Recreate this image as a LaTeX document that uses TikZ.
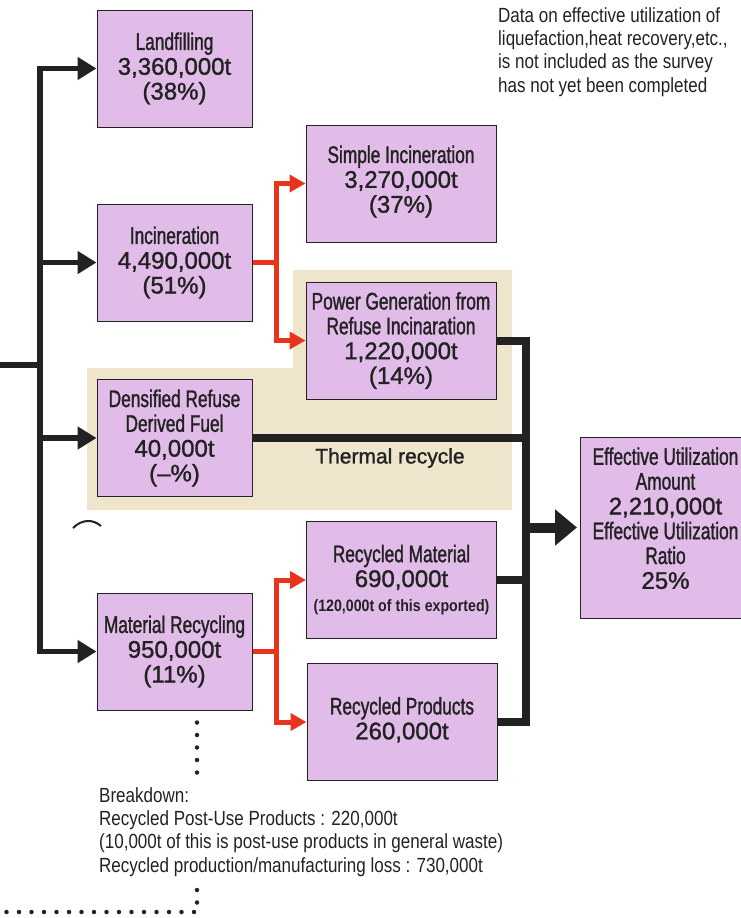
\documentclass[tikz,border=0pt]{standalone}
\usepackage{fontspec}
\setmainfont{Liberation Sans}
\newfontfamily\boxfont{Liberation Sans}[FakeBold=1.3,Ligatures=TeX]
\newfontfamily\condfont{Liberation Sans}[FakeStretch=0.72,FakeBold=1.3]
\newfontfamily\notefont{Liberation Sans}[FakeStretch=0.83]
\newfontfamily\tinycond{Liberation Sans}[FakeStretch=0.86]
\usetikzlibrary{arrows.meta}
\definecolor{boxpink}{RGB}{226,188,233}
\definecolor{thermbg}{RGB}{238,229,204}
\definecolor{flowred}{RGB}{232,52,28}
\definecolor{ink}{RGB}{34,34,34}

\begin{document}
\begin{tikzpicture}[x=1pt,y=-1pt,
	box/.style={draw=ink,line width=1pt,fill=boxpink,inner sep=0pt,align=center,text=ink,
		font=\boxfont\fontsize{24}{24.8}\selectfont},
	lbox/.style={box,minimum width=155pt,minimum height=117pt},
	rbox/.style={box,minimum width=190pt,minimum height=117pt},
	mainline/.style={draw=ink,line width=5.5pt},
	mainarr/.style={mainline,-{Triangle[length=19pt,width=22pt]}},
	redarr/.style={draw=flowred,line width=5pt,-{Triangle[length=16pt,width=17pt]}},
	fatline/.style={draw=ink,line width=8pt},
	fatarr/.style={draw=ink,line width=10pt,shorten >=3pt,-{Triangle[length=22pt,width=35pt]}},
	dots/.style={draw=ink,line width=4.5pt,line cap=round,dash pattern=on 0pt off 12.5pt},
	plain/.style={inner sep=0pt,align=left,text=ink,font=\notefont\fontsize{20.5}{23.4}\selectfont}]
	\useasboundingbox (0,0) rectangle (741,918);
	\fill[thermbg] (293,270) -- (512,270) -- (512,510) -- (87,510) -- (87,368) -- (293,368) -- cycle;
	% first split
	\node[lbox] (land) at (174.5,68.5) {{\condfont Landfilling}\\3,360,000t\\(38\%)};
	\node[lbox] (incin) at (174.5,262.5) {{\condfont Incineration}\\4,490,000t\\(51\%)};
	\node[lbox] (rdf) at (174.5,438) {{\condfont Densified Refuse}\\{\condfont Derived Fuel}\\40,000t\\(–\%)};
	\node[lbox] (matrec) at (174.5,651.5) {{\condfont Material Recycling}\\950,000t\\(11\%)};
	% second split
	\node[rbox] (simple) at (401,183.5) {{\condfont Simple Incineration}\\3,270,000t\\(37\%)\\[-16pt]{}};
	\node[rbox] (power) at (401,340.5) {{\condfont Power Generation from}\\{\condfont Refuse Incinaration}\\1,220,000t\\(14\%)};
	\node[rbox] (recmat) at (401.5,580) {{\condfont Recycled Material}\\690,000t\\{\tinycond\bfseries\fontsize{16.5}{24.8}\selectfont(120,000t of this exported)}};
	\node[rbox] (recprod) at (402,722) {{}\\[-12pt]{\condfont Recycled Products}\\260,000t};
	\node[box,minimum width=170pt,minimum height=181pt,anchor=west] (effect) at (580,527.5)
		{{\condfont Effective Utilization}\\{\condfont Amount}\\2,210,000t\\{\condfont Effective Utilization}\\{\condfont Ratio}\\25\%\\[-6pt]{}};
	\node[text=ink,font=\boxfont\fontsize{21}{21}\selectfont] (thermal) at (390,458) {Thermal recycle};
	\node[plain,anchor=north west] (note) at (498,7) {Data on effective utilization of\\liquefaction,heat recovery,etc.,\\is not included as the survey\\has not yet been completed};
	\node[plain,anchor=north west] (bdown) at (99,787) {Breakdown:\\Recycled Post-Use Products : 220,000t\\(10,000t of this is post-use products in general waste)\\Recycled production/manufacturing loss : 730,000t};
	% left feed
	\coordinate (feed) at (0,365);
	\coordinate (lbus) at (40,365);
	\draw[mainline] (feed) -- (lbus);
	\draw[mainarr] (lbus) |- (land.west);
	\draw[mainarr] (lbus) |- (matrec.west);
	\foreach \n in {incin,rdf}
		\draw[mainarr] (lbus |- \n.west) -- (\n.west);
	% red splits
	\coordinate (isplit) at (276,262.5);
	\coordinate (msplit) at (276,651.5);
	\draw[redarr] (incin.east) -- (isplit) |- (simple.west);
	\draw[redarr] (isplit) |- (power.west);
	\draw[redarr] (matrec.east) -- (msplit) |- (recmat.west);
	\draw[redarr] (msplit) |- (recprod.west);
	% effective utilization
	\coordinate (rbus) at (526,0);
	\draw[fatline] (power.east) -| (rbus |- recprod.east) -- (recprod.east);
	\draw[fatline] (rdf.east) -- (rbus |- rdf.east);
	\draw[fatline] (recmat.east) -- (rbus |- recmat.east);
	\draw[fatarr] (rbus |- effect.west) -- (effect.west);
	% breakdown
	\coordinate (brk) at (197,776);
	\coordinate (tailtop) at (197,890);
	\coordinate (tail) at (0,912);
	\draw[dots] (brk |- matrec.south) ++(0,12) -- (brk);
	\draw[dots] (tailtop) |- (tail);
	\draw[ink,line width=2pt] (73,528) .. controls (82,519) and (93,519) .. (101,526);
\end{tikzpicture}
\end{document}
